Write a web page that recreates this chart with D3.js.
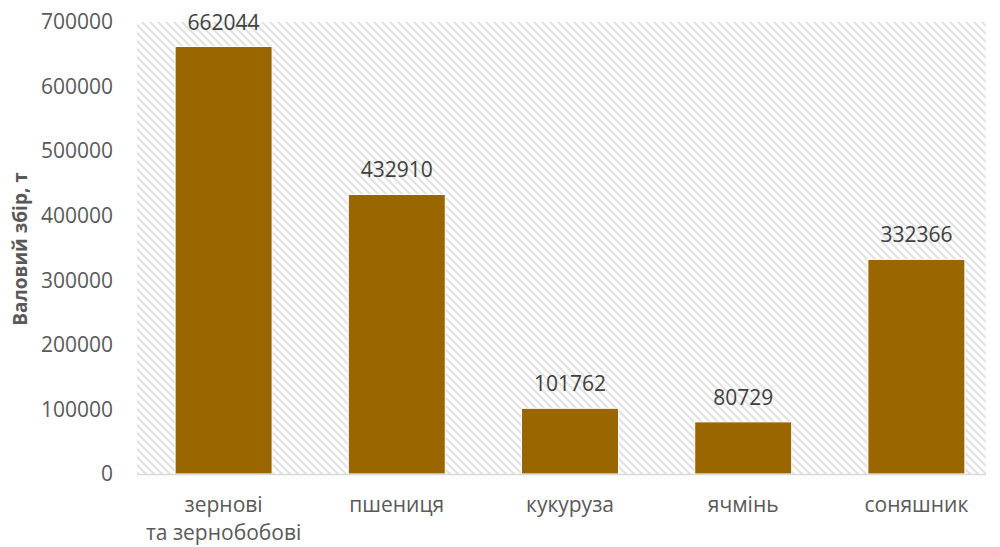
<!DOCTYPE html>
<html>
<head>
<meta charset="utf-8">
<script src="https://cdn.jsdelivr.net/npm/d3@7"></script>
<style>
  html, body { margin: 0; padding: 0; background: #fff; }
  svg { display: block; }
</style>
</head>
<body>
<svg id="chart" width="1000" height="547"></svg>
<script>
// Crop gross harvest, tonnes
const categories = [["зернові", "та зернобобові"], ["пшениця"], ["кукуруза"], ["ячмінь"], ["соняшник"]];
const values = [662044, 432910, 101762, 80729, 332366];
const yTicks = [0, 100000, 200000, 300000, 400000, 500000, 600000, 700000];
const yTitle = "Валовий збір, т";

const svg = d3.select("#chart");
const font = "'Open Sans', 'DejaVu Sans', sans-serif";

const plot = { left: 137, right: 986, top: 22, bottom: 474 };

const x = d3.scaleBand()
  .domain(d3.range(categories.length))
  .range([plot.left, 1003])
  .paddingInner(0.44)
  .paddingOuter(0.22);

const y = d3.scaleLinear().domain([0, 700000]).range([plot.bottom, plot.top]);

// hatched plot background
const defs = svg.append("defs");
const pat = defs.append("pattern")
  .attr("id", "hatch")
  .attr("patternUnits", "userSpaceOnUse")
  .attr("width", 8).attr("height", 8);
pat.append("rect").attr("width", 8).attr("height", 8).attr("fill", "#fff");
pat.append("path")
  .attr("d", "M-2,-2 L10,10 M-2,6 L2,10 M6,-2 L10,2")
  .attr("stroke", "#e2e2e2")
  .attr("stroke-width", 2.2);

svg.append("rect")
  .attr("x", plot.left).attr("y", plot.top)
  .attr("width", plot.right - plot.left)
  .attr("height", plot.bottom - plot.top)
  .attr("fill", "url(#hatch)");

// y axis labels
const yAxis = d3.axisLeft(y).tickValues(yTicks).tickSize(0).tickPadding(0).tickFormat(d3.format("d"));
const yg = svg.append("g").attr("transform", "translate(113,0)").call(yAxis);
yg.select(".domain").remove();
yg.selectAll("text")
  .attr("fill", "#595959")
  .style("font-family", font)
  .style("font-size", "21px");

// y axis title
svg.append("text")
  .attr("transform", "translate(27,249) rotate(-90)")
  .attr("text-anchor", "middle")
  .attr("fill", "#595959")
  .style("font-family", font)
  .style("font-size", "19px")
  .style("font-weight", "bold")
  .text(yTitle);

// bars
svg.append("g").selectAll("rect")
  .data(values)
  .join("rect")
  .attr("x", (d, i) => x(i))
  .attr("y", d => y(d))
  .attr("width", x.bandwidth())
  .attr("height", d => y(0) - y(d))
  .attr("fill", "#996600")
  .attr("stroke", "#fff")
  .attr("stroke-width", 1);

// baseline
svg.append("line")
  .attr("x1", plot.left).attr("x2", plot.right)
  .attr("y1", y(0) + 0.5).attr("y2", y(0) + 0.5)
  .attr("stroke", "#d9d9d9")
  .attr("stroke-width", 1.5);

// value labels
svg.append("g").selectAll("text")
  .data(values)
  .join("text")
  .attr("x", (d, i) => x(i) + x.bandwidth() / 2)
  .attr("y", d => y(d) - 17)
  .attr("text-anchor", "middle")
  .attr("fill", "#404040")
  .style("font-family", font)
  .style("font-size", "21px")
  .text(d => d);

// category labels
const xg = svg.append("g").selectAll("text")
  .data(categories)
  .join("text")
  .attr("x", (d, i) => x(i) + x.bandwidth() / 2)
  .attr("y", 512)
  .attr("text-anchor", "middle")
  .attr("fill", "#595959")
  .style("font-family", font)
  .style("font-size", "21px");
xg.selectAll("tspan")
  .data(d => d)
  .join("tspan")
  .attr("x", function () { return d3.select(this.parentNode).attr("x"); })
  .attr("dy", (d, i) => i === 0 ? 0 : 28)
  .text(d => d);
</script>
</body>
</html>
